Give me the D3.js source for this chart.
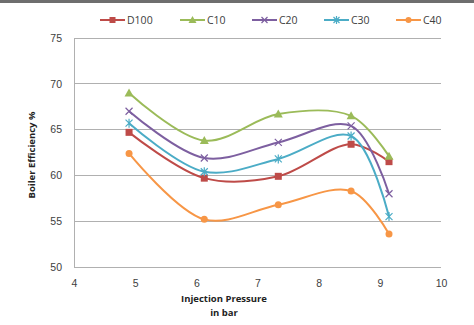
<!DOCTYPE html>
<html><head><meta charset="utf-8">
<script src="https://cdn.jsdelivr.net/npm/d3@7"></script>
<style>body{margin:0;background:#fff;}svg{display:block;font-family:"Open Sans",Calibri,Arial,sans-serif;}</style>
</head><body>
<script>
const pressures = [4.9, 6.13, 7.34, 8.53, 9.15];
const seriesNames = ["D100", "C10", "C20", "C30", "C40"];
const D100 = [64.7, 59.7, 59.9, 63.4, 61.5];
const C10 = [69.0, 63.8, 66.7, 66.5, 62.1];
const C20 = [67.0, 61.9, 63.6, 65.4, 58.0];
const C30 = [65.7, 60.4, 61.8, 64.3, 55.5];
const C40 = [62.4, 55.2, 56.8, 58.3, 53.6];
const xTicks = [4, 5, 6, 7, 8, 9, 10];
const yTicks = [50, 55, 60, 65, 70, 75];
const colors = ["#BE4B48", "#9BBB59", "#7D5FA0", "#4BACC6", "#F79646"];
const markers = ["square", "triangle", "cross", "star", "circle"];
const allSeries = [D100, C10, C20, C30, C40];

const W = 474, H = 325;
const svg = d3.select("body").append("svg").attr("width", W).attr("height", H);
svg.append("rect").attr("x",0).attr("y",0).attr("width",W).attr("height",3).attr("fill","#6e6e6e");

const x = d3.scaleLinear().domain([4, 10]).range([74, 441]);
const y = d3.scaleLinear().domain([50, 75]).range([267, 38]);

// grid
svg.append("g").selectAll("line").data(yTicks).join("line")
  .attr("x1", x(4)).attr("x2", x(10)).attr("y1", d => y(d)).attr("y2", d => y(d))
  .attr("stroke", "#b0b0b0").attr("stroke-width", 1).attr("shape-rendering","crispEdges");
svg.append("line").attr("x1", x(4)).attr("x2", x(4)).attr("y1", y(75)).attr("y2", y(50))
  .attr("stroke", "#b0b0b0").attr("shape-rendering","crispEdges");

// axes labels
const yAxis = d3.axisLeft(y).tickValues(yTicks).tickFormat(d3.format("d")).tickSize(0).tickPadding(12);
const gy = svg.append("g").attr("transform", `translate(${x(4)},0)`).call(yAxis);
gy.select(".domain").remove();
gy.selectAll("text").attr("font-size", 10.5).attr("fill", "#404040");

const xAxis = d3.axisBottom(x).tickValues(xTicks).tickFormat(d3.format("d")).tickSize(0).tickPadding(13);
const gx = svg.append("g").attr("transform", `translate(0,${y(50)})`).call(xAxis);
gx.select(".domain").remove();
gx.selectAll("text").attr("font-size", 10.5).attr("fill", "#404040");

// axis titles
svg.append("text").attr("transform", `translate(35,155) rotate(-90)`).attr("text-anchor","middle")
  .attr("font-size", 9.5).attr("font-weight","bold").attr("fill","#222").text("Boiler Efficiency %");
svg.append("text").attr("x", 224).attr("y", 302).attr("text-anchor","middle")
  .attr("font-size", 9.5).attr("font-weight","bold").attr("fill","#222").text("Injection Pressure");
svg.append("text").attr("x", 224).attr("y", 316).attr("text-anchor","middle")
  .attr("font-size", 9.5).attr("font-weight","bold").attr("fill","#222").text("in bar");

function drawMarker(g, type, cx, cy, color, s) {
  if (type === "square") {
    g.append("rect").attr("x", cx-s).attr("y", cy-s).attr("width", 2*s).attr("height", 2*s).attr("fill", color);
  } else if (type === "triangle") {
    g.append("path").attr("d", `M${cx},${cy-s-1}L${cx+s+1},${cy+s}L${cx-s-1},${cy+s}Z`).attr("fill", color);
  } else if (type === "cross") {
    g.append("path").attr("d", `M${cx-s},${cy-s}L${cx+s},${cy+s}M${cx-s},${cy+s}L${cx+s},${cy-s}`)
      .attr("stroke", color).attr("stroke-width", 1.2).attr("fill","none");
  } else if (type === "star") {
    g.append("path").attr("d", `M${cx-s},${cy-s}L${cx+s},${cy+s}M${cx-s},${cy+s}L${cx+s},${cy-s}M${cx},${cy-s-1}L${cx},${cy+s+1}`)
      .attr("stroke", color).attr("stroke-width", 1.2).attr("fill","none");
  } else if (type === "circle") {
    g.append("circle").attr("cx", cx).attr("cy", cy).attr("r", s).attr("fill", color);
  }
}

const line = d3.line().x((d,i) => x(pressures[i])).y(d => y(d)).curve(d3.curveCatmullRom.alpha(0.5));
allSeries.forEach((vals, si) => {
  const g = svg.append("g");
  g.append("path").attr("d", line(vals)).attr("fill","none").attr("stroke", colors[si]).attr("stroke-width", 2);
  vals.forEach((v, i) => drawMarker(g, markers[si], x(pressures[i]), y(v), colors[si], 3.5));
});

// legend
const legX = [100, 180, 252, 324, 396];
seriesNames.forEach((n, i) => {
  const g = svg.append("g");
  g.append("line").attr("x1", legX[i]).attr("x2", legX[i]+25).attr("y1", 20).attr("y2", 20)
    .attr("stroke", colors[i]).attr("stroke-width", 2);
  drawMarker(g, markers[i], legX[i]+12.5, 20, colors[i], 3);
  g.append("text").attr("x", legX[i]+27).attr("y", 24).attr("font-size", 10.5).attr("fill","#404040").text(n);
});
</script>
</body></html>
